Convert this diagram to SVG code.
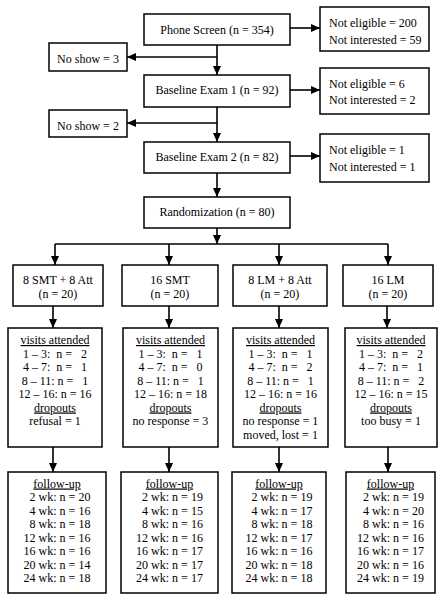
<svg xmlns="http://www.w3.org/2000/svg" width="445" height="600" viewBox="0 0 445 600" xml:space="preserve">
<style>
rect.b{fill:#fff;stroke:#000;stroke-width:1.5}
text{font-family:"Liberation Serif","Times New Roman",serif;font-size:12px;fill:#000;white-space:pre}
.c{text-anchor:middle}
.u{text-decoration:underline}
.ln{stroke:#000;stroke-width:1.6;fill:none}
</style>
<defs>
<marker id="ah" markerWidth="9" markerHeight="8" refX="9" refY="4" orient="auto" markerUnits="userSpaceOnUse">
<path d="M0,0 L9,4 L0,8 z" fill="#000"/>
</marker>
</defs>
<rect x="0" y="0" width="445" height="600" fill="#fff"/>

<g id="connectors">
<line class="ln" x1="290" y1="28" x2="320" y2="28" marker-end="url(#ah)"/>
<line class="ln" x1="217" y1="45" x2="217" y2="75" marker-end="url(#ah)"/>
<line class="ln" x1="217" y1="57" x2="127" y2="57" marker-end="url(#ah)"/>
<line class="ln" x1="290" y1="90" x2="320" y2="90" marker-end="url(#ah)"/>
<line class="ln" x1="217" y1="107" x2="217" y2="142" marker-end="url(#ah)"/>
<line class="ln" x1="217" y1="123" x2="127" y2="123" marker-end="url(#ah)"/>
<line class="ln" x1="290" y1="156" x2="320" y2="156" marker-end="url(#ah)"/>
<line class="ln" x1="217" y1="173" x2="217" y2="197" marker-end="url(#ah)"/>
<line class="ln" x1="217" y1="228" x2="217" y2="244" marker-end="url(#ah)"/>
<line class="ln" x1="55" y1="244" x2="388" y2="244"/>
<line class="ln" x1="55" y1="244" x2="55" y2="265" marker-end="url(#ah)"/>
<line class="ln" x1="169" y1="244" x2="169" y2="265" marker-end="url(#ah)"/>
<line class="ln" x1="279" y1="244" x2="279" y2="265" marker-end="url(#ah)"/>
<line class="ln" x1="388" y1="244" x2="388" y2="265" marker-end="url(#ah)"/>
<line class="ln" x1="53" y1="306" x2="53" y2="328" marker-end="url(#ah)"/>
<line class="ln" x1="169" y1="306" x2="169" y2="328" marker-end="url(#ah)"/>
<line class="ln" x1="279" y1="306" x2="279" y2="328" marker-end="url(#ah)"/>
<line class="ln" x1="387" y1="306" x2="387" y2="328" marker-end="url(#ah)"/>
<line class="ln" x1="53" y1="447" x2="53" y2="472" marker-end="url(#ah)"/>
<line class="ln" x1="169" y1="447" x2="169" y2="472" marker-end="url(#ah)"/>
<line class="ln" x1="279" y1="447" x2="279" y2="472" marker-end="url(#ah)"/>
<line class="ln" x1="388" y1="447" x2="388" y2="472" marker-end="url(#ah)"/>
</g>

<g id="phone">
<rect class="b" x="144" y="14" width="146" height="31"/>
<text class="c" x="217" y="33.5">Phone Screen (n = 354)</text>
</g>
<g id="excl1">
<rect class="b" x="320" y="7" width="109" height="44"/>
<text x="329" y="27">Not eligible = 200</text>
<text x="329" y="43.5">Not interested = 59</text>
</g>
<g id="noshow1">
<rect class="b" x="49" y="43" width="78" height="28"/>
<text class="c" x="88" y="63">No show = 3</text>
</g>
<g id="base1">
<rect class="b" x="144" y="75" width="146" height="32"/>
<text class="c" x="217" y="94">Baseline Exam 1 (n = 92)</text>
</g>
<g id="excl2">
<rect class="b" x="320" y="68" width="109" height="46"/>
<text x="329" y="87.5">Not eligible = 6</text>
<text x="329" y="104">Not interested = 2</text>
</g>
<g id="noshow2">
<rect class="b" x="49" y="110" width="78" height="27"/>
<text class="c" x="88" y="130">No show = 2</text>
</g>
<g id="base2">
<rect class="b" x="144" y="142" width="146" height="31"/>
<text class="c" x="217" y="160.5">Baseline Exam 2 (n = 82)</text>
</g>
<g id="excl3">
<rect class="b" x="320" y="134" width="109" height="48"/>
<text x="329" y="153.5">Not eligible = 1</text>
<text x="329" y="171">Not interested = 1</text>
</g>
<g id="random">
<rect class="b" x="144" y="197" width="146" height="31"/>
<text class="c" x="217" y="216">Randomization (n = 80)</text>
</g>

<g id="grp1">
<rect class="b" x="13" y="265" width="90" height="41"/>
<text class="c" x="58" y="284">8 SMT + 8 Att</text>
<text class="c" x="58" y="298">(n = 20)</text>
</g>
<g id="grp2">
<rect class="b" x="122" y="265" width="96" height="41"/>
<text class="c" x="170" y="284">16 SMT</text>
<text class="c" x="170" y="298">(n = 20)</text>
</g>
<g id="grp3">
<rect class="b" x="233" y="265" width="94" height="41"/>
<text class="c" x="280" y="284">8 LM + 8 Att</text>
<text class="c" x="280" y="298">(n = 20)</text>
</g>
<g id="grp4">
<rect class="b" x="343" y="265" width="90" height="41"/>
<text class="c" x="388" y="284">16 LM</text>
<text class="c" x="388" y="298">(n = 20)</text>
</g>

<g id="visits1">
<rect class="b" x="8" y="328" width="94" height="119"/>
<text class="c u" x="55" y="344">visits attended</text>
<text class="c" x="55" y="357.5">1 – 3:  n =   2</text>
<text class="c" x="55" y="371">4 – 7:  n =   1</text>
<text class="c" x="55" y="384.5">8 – 11: n =   1</text>
<text class="c" x="55" y="398">12 – 16: n = 16</text>
<text class="c u" x="55" y="411.5">dropouts</text>
<text class="c" x="55" y="425">refusal = 1</text>
</g>
<g id="visits2">
<rect class="b" x="123" y="328" width="95" height="119"/>
<text class="c u" x="170.5" y="344">visits attended</text>
<text class="c" x="170.5" y="357.5">1 – 3:  n =   1</text>
<text class="c" x="170.5" y="371">4 – 7:  n =   0</text>
<text class="c" x="170.5" y="384.5">8 – 11: n =   1</text>
<text class="c" x="170.5" y="398">12 – 16: n = 18</text>
<text class="c u" x="170.5" y="411.5">dropouts</text>
<text class="c" x="170.5" y="425">no response = 3</text>
</g>
<g id="visits3">
<rect class="b" x="233" y="328" width="95" height="119"/>
<text class="c u" x="280.5" y="344">visits attended</text>
<text class="c" x="280.5" y="357.5">1 – 3:  n =   1</text>
<text class="c" x="280.5" y="371">4 – 7:  n =   2</text>
<text class="c" x="280.5" y="384.5">8 – 11: n =   1</text>
<text class="c" x="280.5" y="398">12 – 16: n = 16</text>
<text class="c u" x="280.5" y="411.5">dropouts</text>
<text class="c" x="280.5" y="425">no response = 1</text>
<text class="c" x="280.5" y="438.5">moved, lost = 1</text>
</g>
<g id="visits4">
<rect class="b" x="345" y="328" width="92" height="119"/>
<text class="c u" x="391" y="344">visits attended</text>
<text class="c" x="391" y="357.5">1 – 3:  n =   2</text>
<text class="c" x="391" y="371">4 – 7:  n =   1</text>
<text class="c" x="391" y="384.5">8 – 11: n =   2</text>
<text class="c" x="391" y="398">12 – 16: n = 15</text>
<text class="c u" x="391" y="411.5">dropouts</text>
<text class="c" x="391" y="425">too busy = 1</text>
</g>

<g id="follow1">
<rect class="b" x="8" y="472" width="98" height="121"/>
<text class="c u" x="57" y="487.5">follow-up</text>
<text class="c" x="57" y="501">  2 wk: n = 20</text>
<text class="c" x="57" y="514.5">  4 wk: n = 16</text>
<text class="c" x="57" y="528">  8 wk: n = 18</text>
<text class="c" x="57" y="541.5">12 wk: n = 16</text>
<text class="c" x="57" y="555">16 wk: n = 16</text>
<text class="c" x="57" y="568.5">20 wk: n = 14</text>
<text class="c" x="57" y="582">24 wk: n = 18</text>
</g>
<g id="follow2">
<rect class="b" x="121" y="472" width="97" height="121"/>
<text class="c u" x="169.5" y="487.5">follow-up</text>
<text class="c" x="169.5" y="501">  2 wk: n = 19</text>
<text class="c" x="169.5" y="514.5">  4 wk: n = 15</text>
<text class="c" x="169.5" y="528">  8 wk: n = 16</text>
<text class="c" x="169.5" y="541.5">12 wk: n = 16</text>
<text class="c" x="169.5" y="555">16 wk: n = 17</text>
<text class="c" x="169.5" y="568.5">20 wk: n = 17</text>
<text class="c" x="169.5" y="582">24 wk: n = 17</text>
</g>
<g id="follow3">
<rect class="b" x="232" y="472" width="94" height="121"/>
<text class="c u" x="279" y="487.5">follow-up</text>
<text class="c" x="279" y="501">  2 wk: n = 19</text>
<text class="c" x="279" y="514.5">  4 wk: n = 17</text>
<text class="c" x="279" y="528">  8 wk: n = 18</text>
<text class="c" x="279" y="541.5">12 wk: n = 17</text>
<text class="c" x="279" y="555">16 wk: n = 16</text>
<text class="c" x="279" y="568.5">20 wk: n = 18</text>
<text class="c" x="279" y="582">24 wk: n = 18</text>
</g>
<g id="follow4">
<rect class="b" x="346" y="472" width="89" height="121"/>
<text class="c u" x="390.5" y="487.5">follow-up</text>
<text class="c" x="390.5" y="501">  2 wk: n = 19</text>
<text class="c" x="390.5" y="514.5">  4 wk: n = 20</text>
<text class="c" x="390.5" y="528">  8 wk: n = 16</text>
<text class="c" x="390.5" y="541.5">12 wk: n = 16</text>
<text class="c" x="390.5" y="555">16 wk: n = 17</text>
<text class="c" x="390.5" y="568.5">20 wk: n = 16</text>
<text class="c" x="390.5" y="582">24 wk: n = 19</text>
</g>
</svg>
